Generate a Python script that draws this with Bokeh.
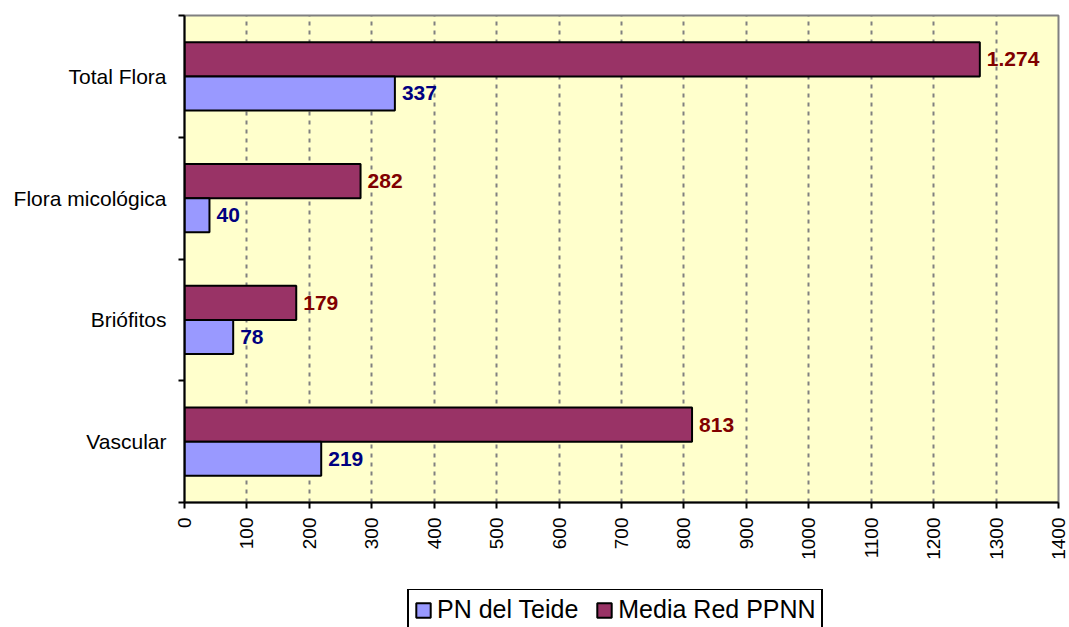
import math
import numpy as np
from bokeh.plotting import figure
from bokeh.layouts import column
from bokeh.models import (ColumnDataSource, Range1d, FixedTicker, SingleIntervalTicker,
                          Legend, LegendItem)
from bokeh.core.properties import value
from bokeh.embed import file_html
from bokeh.resources import INLINE

# ---- data ----
categories = ["Vascular", "Briófitos", "Flora micológica", "Total Flora"]
pn_teide = [219, 78, 40, 337]
media_red = [813, 179, 282, 1274]
series_names = ["PN del Teide", "Media Red PPNN"]
x_max = 1400
x_step = 100

FONT = "Liberation Sans"
C_PN = "#9999FF"
C_MEDIA = "#993366"


def fmt(v):
    return f"{v:,}".replace(",", ".")


ypos = np.arange(len(categories)) + 0.5
bar_h = 0.28

src = ColumnDataSource(dict(
    y_pn=ypos - bar_h / 2,
    y_media=ypos + bar_h / 2,
    pn=pn_teide,
    media=media_red,
    pn_lbl=[fmt(v) for v in pn_teide],
    media_lbl=[fmt(v) for v in media_red],
))

p = figure(frame_width=874, frame_height=487,
           x_range=Range1d(0, x_max), y_range=Range1d(0, len(categories)),
           output_backend="svg", toolbar_location=None,
           min_border_left=184, min_border_right=11, min_border_top=15, min_border_bottom=87,
           background_fill_color="#FFFFCC", border_fill_color="white")

p.outline_line_color = "#808080"
p.outline_line_width = 2

# x axis
xa = p.xaxis[0]
xa.ticker = SingleIntervalTicker(interval=x_step)
xa.axis_line_color = "black"
xa.axis_line_width = 2
xa.major_tick_line_color = "black"
xa.major_tick_line_width = 2
xa.major_tick_out = 6
xa.major_tick_in = 0
xa.minor_tick_line_color = None
xa.major_label_orientation = math.pi / 2
xa.major_label_standoff = 9
xa.major_label_text_font = FONT
xa.major_label_text_font_size = "19px"
xa.major_label_text_color = "black"

# y axis
ya = p.yaxis[0]
ya.ticker = FixedTicker(ticks=list(ypos), minor_ticks=list(range(len(categories) + 1)))
ya.major_label_overrides = {float(y): c for y, c in zip(ypos, categories)}
ya.axis_line_color = "black"
ya.axis_line_width = 2
ya.major_tick_line_color = None
ya.major_tick_out = 0
ya.major_tick_in = 0
ya.minor_tick_line_color = "black"
ya.minor_tick_line_width = 2
ya.minor_tick_out = 6
ya.minor_tick_in = 0
ya.major_label_standoff = 12
ya.major_label_text_font = FONT
ya.major_label_text_font_size = "21px"
ya.major_label_text_color = "black"

# grid
p.ygrid.visible = False
p.xgrid.grid_line_color = "#808080"
p.xgrid.grid_line_width = 2
p.xgrid.grid_line_dash = "4 5"

# bars
p.hbar(y="y_media", left=0, right="media", height=bar_h, source=src,
       fill_color=C_MEDIA, line_color="black", line_width=2)
p.hbar(y="y_pn", left=0, right="pn", height=bar_h, source=src,
       fill_color=C_PN, line_color="black", line_width=2)

# value labels
p.text(x="media", y="y_media", text="media_lbl", source=src, x_offset=7,
       text_baseline="middle", text_align="left", text_font=value(FONT),
       text_font_style="bold", text_font_size="21px", text_color="#800000")
p.text(x="pn", y="y_pn", text="pn_lbl", source=src, x_offset=7,
       text_baseline="middle", text_align="left", text_font=value(FONT),
       text_font_style="bold", text_font_size="21px", text_color="#000080")

# legend strip below the chart (frame aligned with the chart frame by the column layout)
p2 = figure(width=1069, height=38, x_range=Range1d(0, x_max), y_range=Range1d(0, len(categories)),
            output_backend="svg", toolbar_location=None,
            x_axis_location=None, y_axis_location=None,
            min_border_left=0, min_border_right=0, min_border_top=0, min_border_bottom=0,
            background_fill_color="white", border_fill_color="white")
p2.outline_line_color = None
p2.xgrid.visible = False
p2.ygrid.visible = False
l_pn = p2.hbar(y="y_pn", left=0, right="pn", height=bar_h, source=src,
               fill_color=C_PN, line_color="black", line_width=2, visible=False)
l_media = p2.hbar(y="y_media", left=0, right="media", height=bar_h, source=src,
                  fill_color=C_MEDIA, line_color="black", line_width=2, visible=False)

legend = Legend(items=[LegendItem(label=series_names[0], renderers=[l_pn]),
                       LegendItem(label=series_names[1], renderers=[l_media])],
                location=(223, -4), orientation="horizontal",
                label_text_font=FONT, label_text_font_size="25px", label_text_color="black",
                glyph_width=18, glyph_height=18, label_standoff=5, spacing=17,
                padding=5, margin=0,
                inactive_fill_alpha=0,
                border_line_color="black", border_line_width=2, border_line_alpha=1,
                background_fill_color="white", background_fill_alpha=1)
p2.add_layout(legend)

open("out.html", "w").write(file_html(column(p, p2, spacing=0), INLINE))
